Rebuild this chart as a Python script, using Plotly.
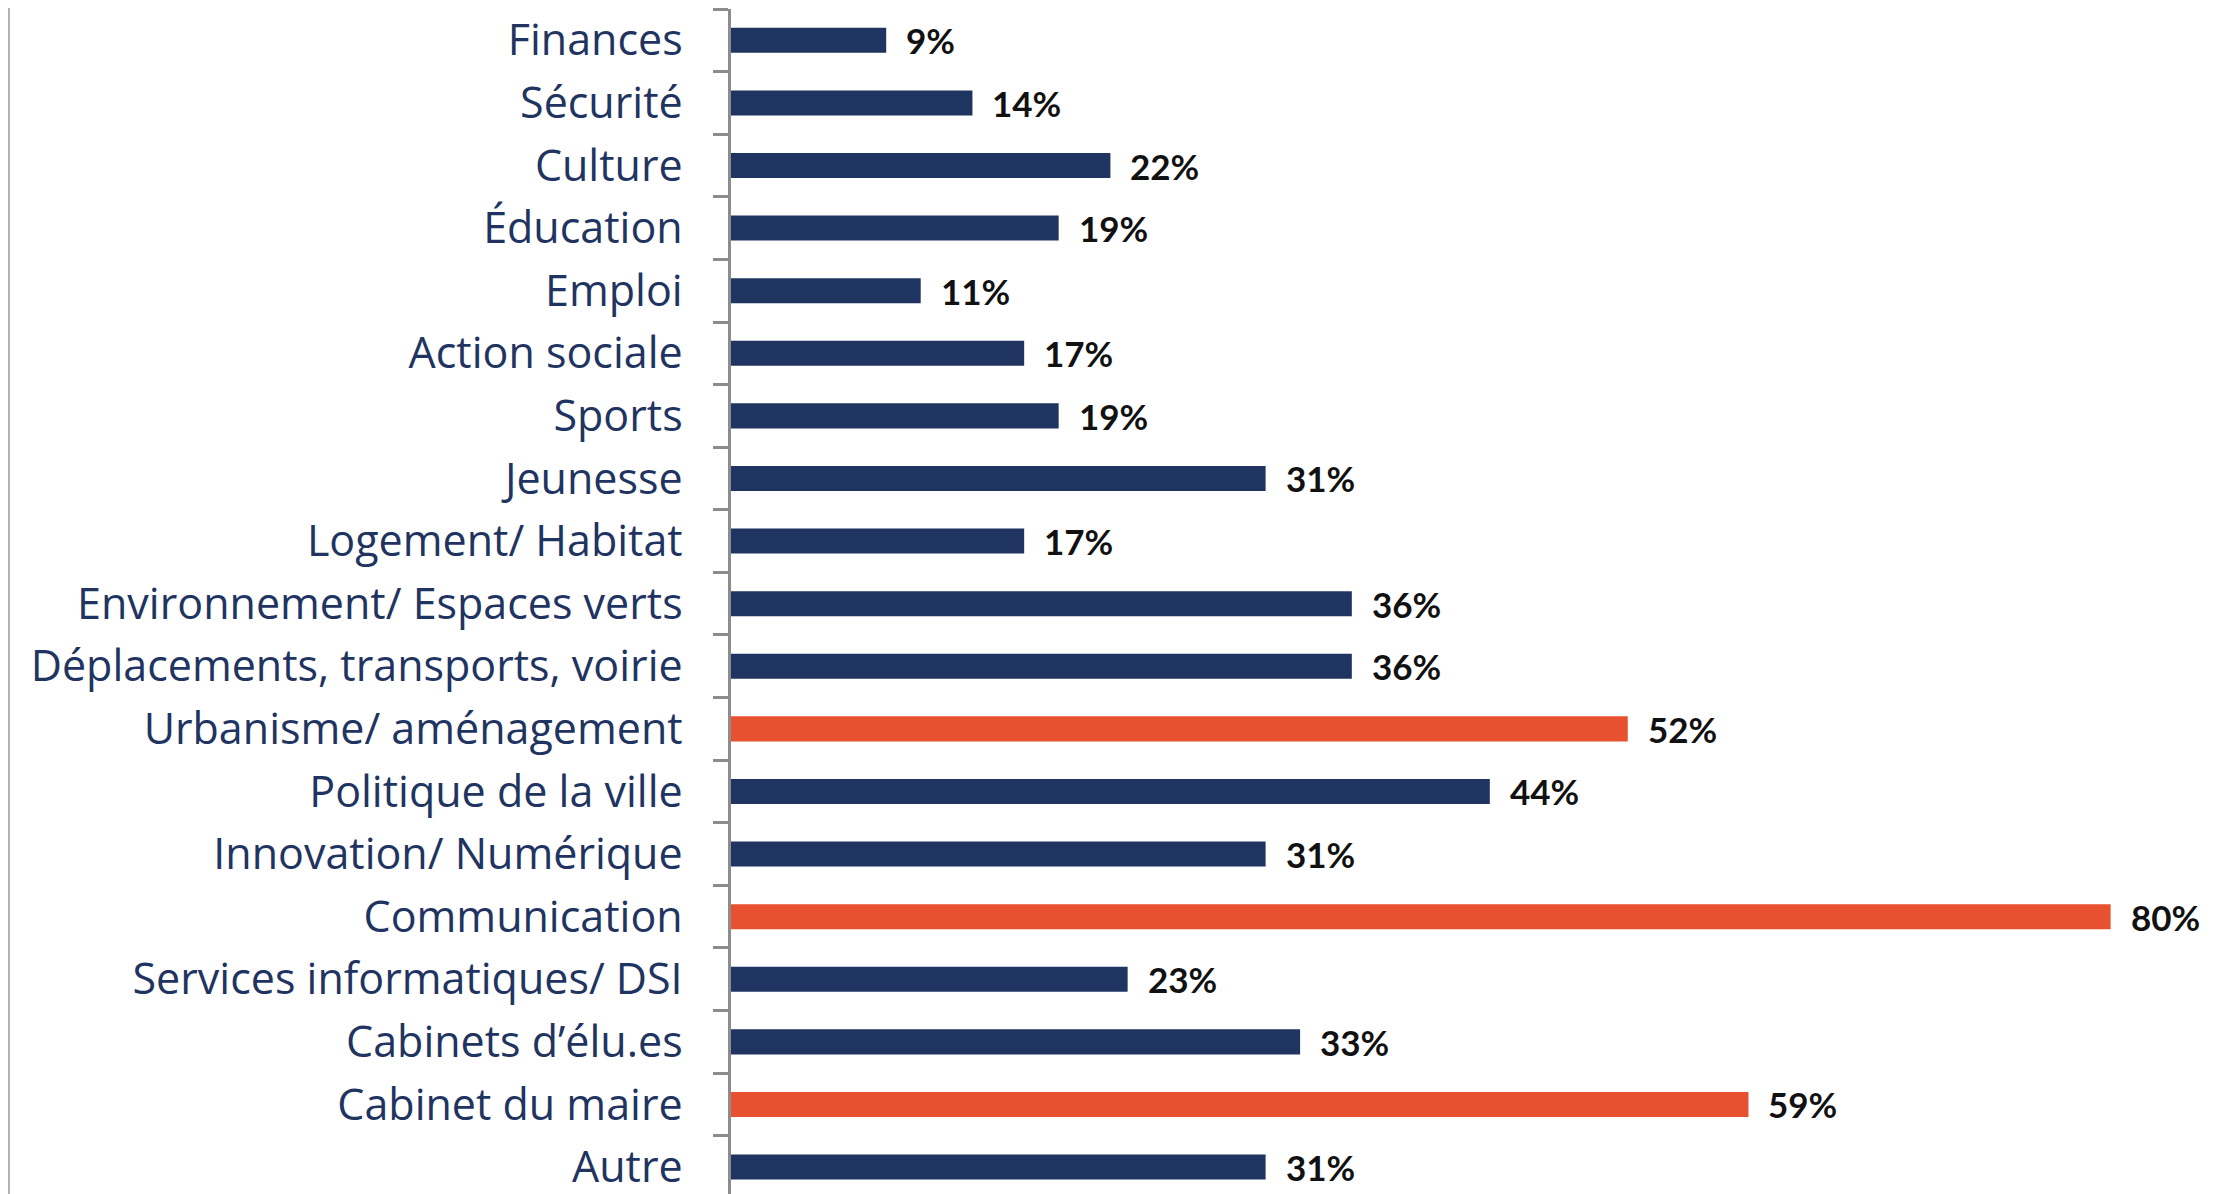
import plotly.graph_objects as go

categories = [
    "Finances", "Sécurité", "Culture", "Éducation", "Emploi", "Action sociale",
    "Sports", "Jeunesse", "Logement/ Habitat", "Environnement/ Espaces verts",
    "Déplacements, transports, voirie", "Urbanisme/ aménagement",
    "Politique de la ville", "Innovation/ Numérique", "Communication",
    "Services informatiques/ DSI", "Cabinets d’élu.es", "Cabinet du maire", "Autre",
]
values = [9, 14, 22, 19, 11, 17, 19, 31, 17, 36, 36, 52, 44, 31, 80, 23, 33, 59, 31]
highlighted = ["Urbanisme/ aménagement", "Communication", "Cabinet du maire"]

NAVY = "#1F3461"
ORANGE = "#E8512F"
colors = [ORANGE if c in highlighted else NAVY for c in categories]

fig = go.Figure()
fig.add_trace(go.Bar(
    x=values, y=categories, orientation="h",
    marker=dict(color=colors, line=dict(width=0)),
    hoverinfo="skip",
))

for c, v in zip(categories, values):
    fig.add_annotation(
        x=v, y=c, text=f"<b>{v}%</b>", showarrow=False,
        xanchor="left", yanchor="middle", xshift=18,
        font=dict(family="Lato", size=35, color="#111111"),
    )

# thin grey frame line at the left edge of the image
fig.add_shape(type="line", xref="paper", yref="paper",
              x0=-0.4846, x1=-0.4846, y0=-0.01, y1=1.01,
              line=dict(color="#b0b0b0", width=2))

fig.update_layout(
    width=2213, height=1186,
    margin=dict(l=723, r=0, t=1, b=0),
    paper_bgcolor="white", plot_bgcolor="white",
    showlegend=False, bargap=0.6,
    font=dict(family="Open Sans"),
)
fig.update_xaxes(range=[0, 86.4], visible=False, showgrid=False, zeroline=False)
fig.update_yaxes(
    type="category", range=[18.43, -0.5],
    showline=True, linecolor="#8c8c8c", linewidth=2.5,
    ticks="outside", tickson="boundaries", ticklen=15, tickwidth=2.5, tickcolor="#8c8c8c",
    ticklabelstandoff=37, showgrid=False, zeroline=False,
    tickfont=dict(family="Open Sans", size=43, color="#1F3461"),
)

fig.write_html("out.html")
